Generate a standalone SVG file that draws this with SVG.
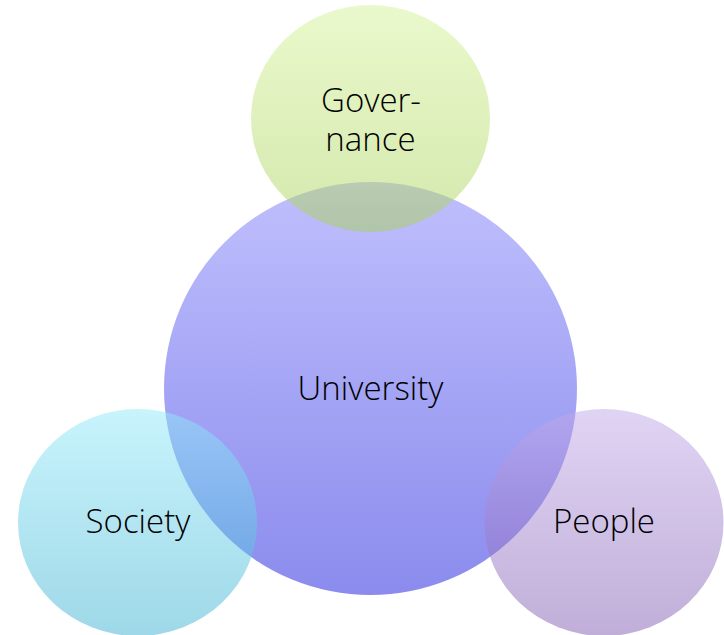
<svg xmlns="http://www.w3.org/2000/svg" width="724" height="635" viewBox="0 0 724 635">
<style>
  .lbl { font-family: "Open Sans", "Liberation Sans", sans-serif; font-weight: 300; font-size: 33px; fill: #000; text-anchor: middle; }
  .small { opacity: 0.5; }
</style>
<defs>
  <linearGradient id="gU" x1="0" y1="0" x2="0" y2="1">
    <stop offset="0" stop-color="#bfbffd"/>
    <stop offset="1" stop-color="#8b8bee"/>
  </linearGradient>
  <linearGradient id="gG" x1="0" y1="0" x2="0" y2="1">
    <stop offset="0" stop-color="#d5f399"/>
    <stop offset="1" stop-color="#a9d159"/>
  </linearGradient>
  <linearGradient id="gS" x1="0" y1="0" x2="0" y2="1">
    <stop offset="0" stop-color="#91e9f9"/>
    <stop offset="1" stop-color="#3db1d1"/>
  </linearGradient>
  <linearGradient id="gP" x1="0" y1="0" x2="0" y2="1">
    <stop offset="0" stop-color="#c1a9e9"/>
    <stop offset="1" stop-color="#815db1"/>
  </linearGradient>
</defs>
<rect width="724" height="635" fill="#fff"/>
<g id="university">
  <circle cx="370.5" cy="388.5" r="206.5" fill="url(#gU)"/>
</g>
<g id="governance">
  <ellipse class="small" cx="370.5" cy="118.5" rx="119.5" ry="113.5" fill="url(#gG)"/>
</g>
<g id="society">
  <ellipse class="small" cx="137.5" cy="522.5" rx="119.5" ry="113.5" fill="url(#gS)"/>
</g>
<g id="people">
  <ellipse class="small" cx="604" cy="522.5" rx="119.5" ry="113.5" fill="url(#gP)"/>
</g>
<g id="connectors"></g>
<g id="labels">
  <text class="lbl" x="370.5" y="400">University</text>
  <text class="lbl" x="371" y="112">Gover-</text>
  <text class="lbl" x="370.5" y="151">nance</text>
  <text class="lbl" x="138" y="533">Society</text>
  <text class="lbl" x="604" y="533">People</text>
</g>
</svg>
